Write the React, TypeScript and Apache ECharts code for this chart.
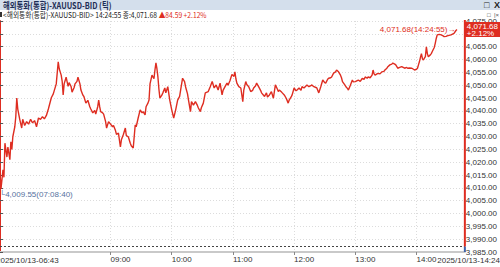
import React, { useEffect, useRef } from "react";
import * as echarts from "echarts";

// x = tick sequence number (tick chart), y = BID price
const tickSeq = [
  0, 1, 3, 4, 5, 7, 8, 10, 11, 12, 13, 15, 16, 17, 18, 20, 22, 23, 25, 27, 29, 31, 33, 35, 37, 39, 41, 43, 45, 47, 49,
  52, 54, 57, 59, 60, 62, 63, 64, 65, 67, 69, 70, 72, 73, 75, 76, 78, 79, 81, 82, 84, 85, 87, 89, 91, 92, 94, 96, 97,
  99, 100, 101, 102, 104, 105, 107, 108, 110, 112, 114, 115, 117, 118, 120, 122, 123, 125, 127, 128, 130, 132, 133,
  135, 137, 138, 140, 142, 144, 145, 147, 148, 150, 151, 152, 154, 156, 157, 158, 159, 160, 161, 162, 164, 165, 167,
  168, 170, 172, 174, 176, 178, 180, 182, 183, 185, 187, 188, 190, 191, 193, 194, 196, 198, 200, 201, 203, 204, 206,
  208, 211, 213, 215, 217, 219, 221, 223, 225, 226, 228, 230, 231, 233, 235, 237, 238, 239, 240, 242, 244, 246, 247,
  249, 250, 252, 254, 256, 257, 259, 260, 262, 264, 265, 267, 268, 270, 271, 273, 275, 277, 279, 281, 282, 283, 285,
  286, 288, 290, 292, 293, 295, 296, 298, 300, 301, 303, 305, 306, 308, 310, 311, 313, 315, 316, 318, 320, 321, 323,
  325, 327, 329, 330, 332, 333, 335, 336, 338, 340, 341, 343, 345, 346, 347, 349, 351, 352, 353, 355, 357, 358, 360,
  362, 363, 365, 367, 369, 370, 372, 373, 375, 377, 378, 379, 380, 382, 383, 385, 387, 389, 390, 392, 393, 395, 397,
  398, 400, 401, 403, 405, 407, 409, 410, 412, 413, 415, 417, 419, 420, 422, 423, 424, 425, 426, 427, 428, 429, 430,
  431, 432, 433, 434, 436, 437, 438, 440, 441, 442, 443, 445, 447, 449, 450, 452, 453, 455, 457, 459, 460, 462, 463,
];
const prices = [
  4016.2, 4009.55, 4017, 4014.1, 4027.4, 4022, 4025.9, 4021, 4027.9, 4025, 4029.9, 4033.8, 4037.7, 4045, 4040.7, 4036.7,
  4033.3, 4036.7, 4034.3, 4035.8, 4034.8, 4036.7, 4035.3, 4036.2, 4033.8, 4037.2, 4036.7, 4037.7, 4036.9, 4038.2, 4040.7,
  4045.1, 4046.6, 4050.5, 4059.1, 4056.4, 4053.9, 4051.5, 4046.2, 4050.5, 4053.1, 4049.5, 4051, 4049.5, 4047.3, 4049,
  4050.5, 4051.5, 4053.1, 4050.5, 4048.1, 4046.1, 4045.6, 4043, 4044.1, 4041.6, 4040.7, 4039.2, 4040.2, 4038.7,
  4041.6, 4044.2, 4041.6, 4039.7, 4039.2, 4038.7, 4035.8, 4033.3, 4035.8, 4034.8, 4033.8, 4034.3, 4032.3, 4030.8, 4031.3,
  4025.9, 4028.7, 4030.8, 4033.3, 4030.3, 4029.9, 4027.4, 4026.4, 4025.5, 4034.5, 4033.8, 4037.2, 4040.4, 4039.2, 4039.7,
  4038.4, 4041.6, 4043.1, 4044.2, 4050.5, 4053.9, 4052.5, 4055.9, 4058.7, 4056.4, 4053.2, 4048.5, 4045, 4046.1, 4047,
  4048.9, 4047, 4049.4, 4044.2, 4040.4, 4037.2, 4040.4, 4044.2, 4045.6, 4048.1, 4052.7, 4051.4, 4049.4, 4046.6, 4044.2,
  4039.7, 4043.6, 4042.2, 4043.6, 4042.1, 4041.1, 4039.7, 4041.2, 4043, 4047, 4047.5, 4049.4, 4051.4, 4048.9, 4050.1,
  4048.1, 4050.8, 4046.2, 4048, 4049.4, 4050.8, 4050, 4051.7, 4054.2, 4053.4, 4055.2, 4052.5, 4050.8, 4049.4, 4048.9,
  4043.6, 4048.1, 4051.4, 4050.3, 4049.4, 4047.5, 4048, 4048.9, 4049.8, 4050.8, 4049.4, 4048, 4047, 4046.1, 4045.6, 4047,
  4045.4, 4046.2, 4047.5, 4044.9, 4050.1, 4048.5, 4047.5, 4048.1, 4047.4, 4047, 4046.2, 4044.9, 4043, 4044.2, 4045.4,
  4046.2, 4048.9, 4047.8, 4048.1, 4048.9, 4048, 4049.4, 4048.9, 4049.7, 4050.1, 4049.4, 4049.8, 4050.1, 4049.4, 4049.1,
  4048.9, 4047, 4049.4, 4052, 4051, 4050.8, 4052.3, 4052.7, 4052.9, 4053.2, 4054.7, 4055.2, 4055.9, 4055.2, 4053.9,
  4052.9, 4051.4, 4050.3, 4049.1, 4048.8, 4048.1, 4050, 4052, 4051.3, 4051.4, 4051.8, 4052, 4051.5, 4052.6, 4052.3,
  4053.2, 4052.7, 4053.2, 4052.9, 4053.9, 4055.9, 4054.4, 4053.9, 4054.4, 4054.6, 4054.4, 4055.2, 4055.4, 4055.9,
  4056.6, 4057.2, 4057.9, 4058.2, 4058.6, 4058.2, 4057.9, 4056.6, 4056.9, 4057.2, 4056.8, 4056.6, 4056.9, 4056.6, 4056.7,
  4056.6, 4056.2, 4055.9, 4056.2, 4056.6, 4057.9, 4059.2, 4060.8, 4062.3, 4060.3, 4059.8, 4060.5, 4061.1, 4064.9, 4062.3,
  4061.1, 4061.8, 4062.3, 4063.1, 4064.7, 4066.3, 4068.2, 4069.6, 4069.8, 4069.6, 4069.2, 4068.9, 4069, 4069.2, 4069.4,
  4069.6, 4070, 4070.2, 4071.3, 4071.68,
];

const seqMax = 471;
const hourTicks = [112, 174, 236, 298, 360, 422];
const hourLabels = ["09:00", "10:00", "11:00", "12:00", "13:00", "14:00"];
const startLabel = "2025/10/13-06:43";
const endLabel = "2025/10/13-14:24";

const yMin = 3985;
const yMax = 4075;
const yStep = 5;

const titleText = "해외통화(통합)-XAUUSD-BID (틱)";
const infoText = "<해외통화(통합)-XAUUSD-BID> 14:24:55 종:4,071.68 ";
const changeText = "▲84.59 +2.12%";
const lastPrice = 4071.68;
const lastTime = "14:24:55";
const lastPct = "+2.12%";
const lowPrice = 4009.55;
const lowTime = "07:08:40";
const prevClose = 3987.09;

const RED = "#de2d21";
const BLUE = "#3f63a8";
const NARROW = "'Liberation Sans Narrow', 'Arial Narrow', 'Liberation Sans', sans-serif";
const KR = "'Noto Sans CJK KR', 'Noto Sans', sans-serif";

const fmt = (v: number) =>
  v.toLocaleString("en-US", { minimumFractionDigits: 2, maximumFractionDigits: 2 });

export default function App() {
  const ref = useRef<HTMLDivElement>(null);
  useEffect(() => {
    if (!ref.current) return;
    const chart = echarts.init(ref.current, null, { renderer: "svg" });
    const data = tickSeq.map((t, i) => [t, prices[i]]);
    const lastIdx = tickSeq.length - 1;
    const lowIdx = prices.indexOf(lowPrice);
    chart.setOption({
      animation: false,
      backgroundColor: "#ffffff",
      grid: { left: 0, right: 29, top: 21, bottom: 15, containLabel: false },
      xAxis: {
        type: "value",
        min: 0,
        max: seqMax,
        axisLine: { show: true, lineStyle: { color: "#c9c9c9", width: 2 } },
        axisTick: { show: true, length: 3, lineStyle: { color: "#888" }, customValues: hourTicks },
        axisLabel: {
          customValues: hourTicks,
          formatter: (v: number) => {
            const i = hourTicks.indexOf(Math.round(v));
            return i >= 0 ? hourLabels[i] : "";
          },
          align: "left",
          margin: 3,
          fontSize: 8,
          fontFamily: NARROW,
          color: "#333",
        },
        splitLine: { show: true, lineStyle: { color: "#dcdcdc", type: [1, 2] } },
      },
      yAxis: {
        type: "value",
        position: "right",
        min: yMin,
        max: yMax,
        interval: yStep,
        axisLine: { show: true, lineStyle: { color: RED, width: 2 } },
        axisTick: { show: true, length: 3, lineStyle: { color: "#555" } },
        axisLabel: {
          formatter: (v: number) => fmt(v),
          margin: 1,
          fontSize: 8,
          fontFamily: NARROW,
          color: "#333",
        },
        splitLine: { show: true, lineStyle: { color: "#dcdcdc", type: [1, 2] } },
      },
      series: [
        {
          type: "line",
          data,
          symbol: "none",
          lineStyle: { color: RED, width: 1.4 },
          z: 3,
          markLine: {
            silent: true,
            symbol: "none",
            data: [
              {
                yAxis: prevClose,
                lineStyle: { color: "#444", type: [2, 2], width: 1 },
                label: { show: false },
              },
            ],
          },
          markPoint: {
            silent: true,
            symbol: "circle",
            symbolSize: 1,
            itemStyle: { color: "rgba(0,0,0,0)" },
            data: [
              {
                coord: [tickSeq[lastIdx], prices[lastIdx]],
                label: {
                  show: true,
                  position: "left",
                  distance: 1,
                  formatter: `${fmt(lastPrice)}(${lastTime})→`,
                  color: RED,
                  fontSize: 8,
                  fontFamily: NARROW,
                },
              },
              {
                coord: [tickSeq[lowIdx], prices[lowIdx]],
                label: {
                  show: true,
                  position: [-1, 2],
                  formatter: `└${fmt(lowPrice)}(${lowTime})`,
                  color: "#56729e",
                  fontSize: 8,
                  fontFamily: NARROW,
                },
              },
            ],
          },
        },
      ],
    });

    const pTop = chart.convertToPixel({ gridIndex: 0 }, [seqMax, yMax]) as number[];
    const pPrev = chart.convertToPixel({ gridIndex: 0 }, [seqMax, prevClose]) as number[];
    const pBot = chart.convertToPixel({ gridIndex: 0 }, [seqMax, yMin]) as number[];
    const pLast = chart.convertToPixel({ gridIndex: 0 }, [seqMax, lastPrice]) as number[];
    const pStart = chart.convertToPixel({ gridIndex: 0 }, [0, yMin]) as number[];
    const ax = pTop[0];

    chart.setOption({
      graphic: [
        { type: "rect", shape: { x: 0, y: 0, width: 500, height: 10 }, style: { fill: "#d4dfec" } },
        {
          type: "text",
          x: 3,
          y: 5,
          scaleX: 0.82,
          style: { text: titleText, fontSize: 9, fontFamily: KR, fill: "#1d2d55", verticalAlign: "middle", fontWeight: "bold" },
        },
        { type: "text", x: 484, y: 5, style: { text: "□", fontSize: 9, fill: "#222", verticalAlign: "middle", fontWeight: "bold" } },
        { type: "text", x: 494, y: 5, style: { text: "X", fontSize: 9, fontFamily: "'Liberation Sans', sans-serif", fill: "#222", verticalAlign: "middle", fontWeight: "bold" } },
        { type: "rect", shape: { x: 0, y: 12, width: 2, height: 5 }, style: { fill: "#333" } },
        {
          type: "text",
          x: 3,
          y: 14.5,
          scaleX: 0.84,
          style: {
            text: `{a|${infoText}}{b|${changeText}}`,
            fontSize: 8,
            fontFamily: KR,
            verticalAlign: "middle",
            rich: {
              a: { fill: "#222", color: "#222", fontSize: 8, fontFamily: KR },
              b: { fill: RED, color: RED, fontSize: 8, fontFamily: KR },
            },
          },
        },
        { type: "text", x: 487, y: 14.5, style: { text: "□", fontSize: 6, fill: "#333", verticalAlign: "middle" } },
        { type: "text", x: 494, y: 14.5, style: { text: "|×", fontSize: 6, fill: "#555", verticalAlign: "middle" } },
        {
          type: "rect",
          shape: { x: ax - 1, y: pTop[1] - 1, width: 2, height: pPrev[1] - pTop[1] + 1 },
          style: { fill: RED },
          z: 30,
        },
        {
          type: "rect",
          shape: { x: ax - 1, y: pPrev[1], width: 2, height: pBot[1] - pPrev[1] },
          style: { fill: BLUE },
          z: 30,
        },
        {
          type: "rect",
          shape: { x: ax, y: pLast[1] - 7.5, width: 500 - ax, height: 15 },
          style: { fill: RED },
          z: 20,
        },
        {
          type: "text",
          x: ax + 2,
          y: pLast[1],
          z: 21,
          style: {
            text: `${fmt(lastPrice)}\n${lastPct}`,
            fontSize: 8,
            lineHeight: 7,
            fontFamily: NARROW,
            fill: "#ffffff",
            verticalAlign: "middle",
            align: "left",
          },
        },
        {
          type: "text",
          x: pStart[0] - 4,
          y: pStart[1] + 8,
          style: { text: startLabel, fontSize: 8, fontFamily: NARROW, fill: "#333", verticalAlign: "middle", align: "left" },
        },
        {
          type: "text",
          x: 500,
          y: pBot[1] + 8,
          style: { text: endLabel, fontSize: 8, fontFamily: NARROW, fill: "#333", verticalAlign: "middle", align: "right" },
        },
      ],
    });
    return () => chart.dispose();
  }, []);
  return <div ref={ref} style={{ position: "fixed", left: 0, top: 0, width: 500, height: 267 }} />;
}
